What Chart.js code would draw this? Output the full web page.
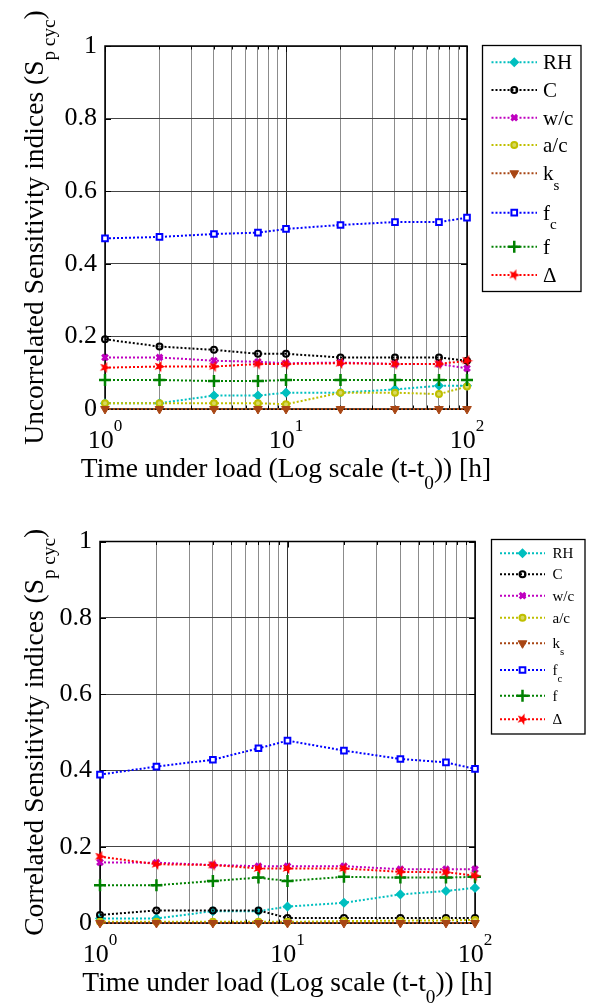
<!DOCTYPE html>
<html><head><meta charset="utf-8">
<script src="https://cdn.jsdelivr.net/npm/chart.js@4.4.1/dist/chart.umd.min.js"></script>
<style>html,body{margin:0;padding:0;background:#fff;}canvas{display:block;}</style>
</head><body>
<canvas id="cTop" width="590" height="503"></canvas>
<canvas id="cBot" width="590" height="503"></canvas>
<script>
// ---------- data ----------
const timeHours = [1, 2, 4, 7, 10, 20, 40, 70, 100];
const seriesLabels = ['RH', 'C', 'w/c', 'a/c', 'k_s', 'f_c', 'f', 'Δ'];
const xGridTicks = [1,2,3,4,5,6,7,8,9,10,20,30,40,50,60,70,80,90,100];
const xMajorTicks = [1, 10, 100];
const yTickValues = [0, 0.2, 0.4, 0.6, 0.8, 1];

// Uncorrelated
const uncRH    = [0.016, 0.016, 0.037, 0.037, 0.045, 0.045, 0.054, 0.064, 0.064];
const uncC     = [0.192, 0.172, 0.163, 0.152, 0.152, 0.142, 0.142, 0.142, 0.133];
const uncWC    = [0.142, 0.142, 0.133, 0.130, 0.126, 0.128, 0.124, 0.124, 0.112];
const uncAC    = [0.016, 0.016, 0.016, 0.016, 0.013, 0.045, 0.045, 0.041, 0.062];
const uncKs    = [0, 0, 0, 0, 0, 0, 0, 0, 0];
const uncFc    = [0.470, 0.474, 0.482, 0.486, 0.496, 0.507, 0.515, 0.515, 0.527];
const uncF     = [0.080, 0.080, 0.077, 0.077, 0.080, 0.080, 0.080, 0.080, 0.080];
const uncDelta = [0.114, 0.117, 0.117, 0.124, 0.124, 0.126, 0.124, 0.124, 0.133];

// Correlated
const corRH    = [0.012, 0.012, 0.031, 0.031, 0.043, 0.053, 0.075, 0.084, 0.092];
const corC     = [0.021, 0.033, 0.033, 0.033, 0.013, 0.013, 0.013, 0.013, 0.013];
const corWC    = [0.159, 0.158, 0.152, 0.149, 0.149, 0.149, 0.141, 0.141, 0.141];
const corAC    = [0.003, 0.003, 0.003, 0.003, 0.003, 0.005, 0.006, 0.007, 0.008];
const corKs    = [0, 0, 0, 0, 0, 0, 0, 0, 0];
const corFc    = [0.389, 0.410, 0.428, 0.458, 0.478, 0.452, 0.430, 0.421, 0.404];
const corF     = [0.099, 0.099, 0.110, 0.119, 0.110, 0.121, 0.119, 0.119, 0.121];
const corDelta = [0.174, 0.154, 0.152, 0.143, 0.143, 0.143, 0.134, 0.133, 0.124];

// ---------- styling ----------
const FONT = "'Liberation Serif', 'Times New Roman', serif";
function fontStr(sz){ return sz + 'px ' + FONT; }

function makeStar(color, size){
  const c = document.createElement('canvas');
  c.width = size; c.height = size;
  const g = c.getContext('2d');
  const cx = size/2, cy = size/2, R = size/2 - 0.5, r = R*0.42;
  g.beginPath();
  for (let i = 0; i < 10; i++){
    const a = -Math.PI/2 + i*Math.PI/5 + 0.35;
    const rr = i % 2 === 0 ? R : r;
    const px = cx + rr*Math.cos(a), py = cy + rr*Math.sin(a);
    if (i === 0) g.moveTo(px, py); else g.lineTo(px, py);
  }
  g.closePath(); g.fillStyle = color; g.fill();
  return c;
}

const styles = [
  {color:'#00BFBF', point:'rectRot',  r:4,   bw:1.5, fill:'#00BFBF'},
  {color:'#000000', point:'circle',   r:3,   bw:2,   fill:'rgba(255,255,255,0)'},
  {color:'#BF00BF', point:'crossRot', r:4,   bw:3,   fill:'#BF00BF'},
  {color:'#BFBF00', point:'circle',   r:3,   bw:2,   fill:'#D8D860'},
  {color:'#A84614', point:'triangle', r:5,   bw:1,   fill:'#A84614', rot:180},
  {color:'#0000FF', point:'rect',     r:4,   bw:2,   fill:'#FFFFFF'},
  {color:'#008000', point:'cross',    r:6,   bw:2.5, fill:'#008000'},
  {color:'#FF0000', point:makeStar('#FF0000', 13), r:6, bw:1, fill:'#FF0000'}
];

function buildDatasets(seriesArr){
  return seriesArr.map((vals, i) => {
    const s = styles[i];
    return {
      label: seriesLabels[i],
      data: timeHours.map((t, j) => ({x: t, y: vals[j]})),
      borderColor: s.color, backgroundColor: s.fill,
      borderWidth: 2, borderDash: [2, 2],
      pointStyle: s.point, pointRadius: s.r, pointBorderWidth: s.bw,
      pointBorderColor: s.color, pointBackgroundColor: s.fill,
      pointRotation: s.rot || 0, pointHoverRadius: s.r,
      clip: false, tension: 0, order: seriesArr.length - i
    };
  });
}

function parseLabel(lbl){
  const k = lbl.indexOf('_');
  if (k < 0) return [{t: lbl}];
  return [{t: lbl.slice(0, k)}, {t: lbl.slice(k+1), s:'sub'}];
}

function richWidth(ctx, parts, size, subScale){
  let w = 0;
  parts.forEach(p => { ctx.font = fontStr(p.s ? size*subScale : size); w += ctx.measureText(p.t).width; });
  return w;
}
function drawRich(ctx, parts, x, y, size, align, subScale, subDy, supDy){
  const w = richWidth(ctx, parts, size, subScale);
  let cx = align === 'center' ? x - w/2 : (align === 'right' ? x - w : x);
  ctx.textAlign = 'left'; ctx.textBaseline = 'alphabetic';
  parts.forEach(p => {
    const fs = p.s ? size*subScale : size;
    ctx.font = fontStr(fs);
    const dy = p.s === 'sub' ? subDy : (p.s === 'sup' ? -supDy : 0);
    ctx.fillText(p.t, cx, y + dy);
    cx += ctx.measureText(p.t).width;
  });
}

const decorPlugin = {
  id: 'decor',
  beforeDatasetsDraw(chart){
    const ctx = chart.ctx, a = chart.chartArea;
    const xs = chart.scales.x, ys = chart.scales.y;
    ctx.save();
    ctx.strokeStyle = '#000'; ctx.lineWidth = 1;
    xGridTicks.forEach(v => {
      const px = Math.round(xs.getPixelForValue(v)) + 0.5;
      const len = xMajorTicks.includes(v) ? 6 : 3.5;
      ctx.beginPath();
      ctx.moveTo(px, a.bottom); ctx.lineTo(px, a.bottom - len);
      ctx.moveTo(px, a.top); ctx.lineTo(px, a.top + len);
      ctx.stroke();
    });
    yTickValues.forEach(v => {
      const py = Math.round(ys.getPixelForValue(v)) + 0.5;
      ctx.beginPath();
      ctx.moveTo(a.left, py); ctx.lineTo(a.left + 6, py);
      ctx.moveTo(a.right, py); ctx.lineTo(a.right - 6, py);
      ctx.stroke();
    });
    ctx.lineWidth = 1.5;
    ctx.strokeRect(a.left, a.top, a.right - a.left, a.bottom - a.top);
    ctx.restore();
  },
  afterDraw(chart, args, o){
    const ctx = chart.ctx, a = chart.chartArea;
    const xs = chart.scales.x;
    ctx.save();
    ctx.fillStyle = '#000';
    // x tick labels 10^n
    xMajorTicks.forEach((v, i) => {
      const px = xs.getPixelForValue(v);
      drawRich(ctx, [{t:'10'}, {t: String(Math.round(Math.log10(v))), s:'sup'}], px, a.bottom + o.xTickDy, 26, 'center', 0.66, 0, 17);
    });
    // x title
    drawRich(ctx, [{t:'Time under load (Log scale (t-t'}, {t:'0', s:'sub'}, {t:')) [h]'}],
      (a.left + a.right)/2, a.bottom + o.xTitleDy, 27.5, 'center', 0.7, 12, 0);
    // y title
    ctx.save();
    ctx.translate(o.yTitleX, (a.top + a.bottom)/2);
    ctx.rotate(-Math.PI/2);
    drawRich(ctx, [{t: o.yTitle + ' (S'}, {t:'p cyc', s:'sub'}, {t:')'}], 0, 0, 27.5, 'center', 0.7, 12, 0);
    ctx.restore();
    // legend
    const L = o.legend;
    ctx.fillStyle = '#fff';
    ctx.fillRect(L.x0, L.y0, L.x1 - L.x0, L.y1 - L.y0);
    ctx.strokeStyle = '#000'; ctx.lineWidth = 1.3;
    ctx.strokeRect(L.x0, L.y0, L.x1 - L.x0, L.y1 - L.y0);
    chart.data.datasets.forEach((ds, i) => {
      const s = styles[i];
      const y = L.rows[i];
      ctx.save();
      ctx.strokeStyle = s.color; ctx.lineWidth = 2; ctx.setLineDash([2, 2]);
      ctx.beginPath(); ctx.moveTo(L.lx0, y); ctx.lineTo(L.lx1, y); ctx.stroke();
      ctx.setLineDash([]);
      ctx.strokeStyle = s.color; ctx.fillStyle = s.fill; ctx.lineWidth = s.bw;
      if (Chart.helpers && Chart.helpers.drawPoint) {
        Chart.helpers.drawPoint(ctx, {pointStyle: s.point, rotation: s.rot || 0, radius: s.r, borderWidth: s.bw}, (L.lx0 + L.lx1)/2, y);
      }
      ctx.restore();
      ctx.fillStyle = '#000';
      drawRich(ctx, parseLabel(ds.label), L.tx, y + L.fs*0.33, L.fs, 'left', 0.72, L.fs*0.45, 0);
    });
    ctx.restore();
  }
};

function makeChart(id, seriesArr, area, decor){
  const H = 503, xAxisH = 60;
  return new Chart(document.getElementById(id), {
    type: 'line',
    data: { datasets: buildDatasets(seriesArr) },
    plugins: [decorPlugin],
    options: {
      responsive: false, animation: false, devicePixelRatio: 1,
      layout: { padding: { left: 0, top: area.top, right: 590 - area.right, bottom: H - area.bottom - xAxisH } },
      plugins: { legend: {display: false}, tooltip: {enabled: false}, decor: decor },
      events: [],
      scales: {
        x: {
          type: 'logarithmic', min: 1, max: 100,
          afterBuildTicks: sc => { sc.ticks = xGridTicks.map(v => ({value: v, major: xMajorTicks.includes(v)})); },
          ticks: { display: false },
          grid: { color: c => (c.tick && xMajorTicks.includes(c.tick.value)) ? '#333333' : '#8c8c8c', lineWidth: 1, drawTicks: false },
          border: { display: false },
          afterFit: sc => { sc.height = xAxisH; }
        },
        y: {
          min: 0, max: 1,
          afterBuildTicks: sc => { sc.ticks = yTickValues.map(v => ({value: v})); },
          ticks: { font: {family: FONT, size: 26}, color: '#000', padding: 8, callback: v => String(v) },
          grid: { color: '#444444', lineWidth: 1, drawTicks: false },
          border: { display: false },
          afterFit: sc => { sc.width = area.left; }
        }
      }
    }
  });
}

makeChart('cTop', [uncRH, uncC, uncWC, uncAC, uncKs, uncFc, uncF, uncDelta],
  {left: 105, right: 467, top: 46, bottom: 409},
  { yTitle: 'Uncorrelated Sensitivity indices', yTitleX: 43, xTickDy: 39, xTitleDy: 68,
    legend: { x0: 482.5, y0: 45.5, x1: 581, y1: 291.5, lx0: 491.5, lx1: 537, tx: 543, fs: 21,
      rows: [62.3, 90, 117.7, 145, 173.3, 212.7, 246.7, 275] } });

makeChart('cBot', [corRH, corC, corWC, corAC, corKs, corFc, corF, corDelta],
  {left: 100, right: 475, top: 38.5, bottom: 420},
  { yTitle: 'Correlated Sensitivity indices', yTitleX: 43, xTickDy: 39, xTitleDy: 68,
    legend: { x0: 491.5, y0: 36.5, x1: 585, y1: 231, lx0: 500, lx1: 545, tx: 552.5, fs: 15,
      rows: [50.3, 71.3, 92.7, 114.7, 140.3, 167, 192.7, 216.3] } });
</script>
</body></html>
